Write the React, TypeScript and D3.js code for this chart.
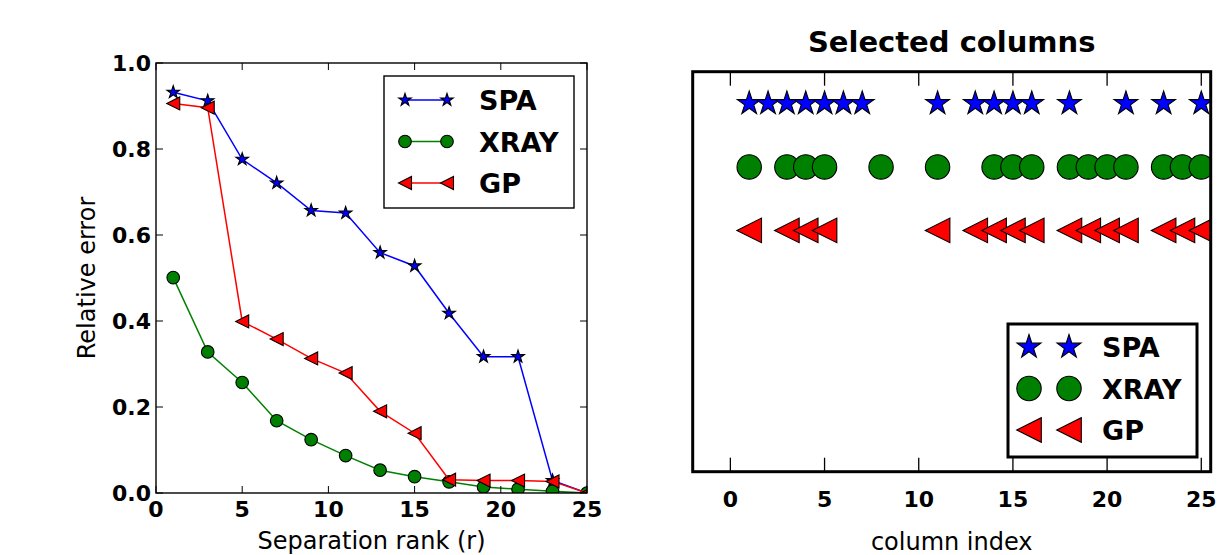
import React from "react";
import * as d3 from "d3";

// ---------- data ----------
const seriesNames = ["SPA", "XRAY", "GP"];
const seriesColors = ["#0000ff", "#008000", "#ff0000"];

const ranks = [1, 3, 5, 7, 9, 11, 13, 15, 17, 19, 21, 23, 25];
const spaError = [0.932, 0.912, 0.776, 0.721, 0.657, 0.651, 0.559, 0.528, 0.418, 0.317, 0.317, 0.029, 0.0];
const xrayError = [0.501, 0.328, 0.257, 0.168, 0.124, 0.087, 0.053, 0.038, 0.026, 0.014, 0.009, 0.004, 0.0];
const gpError = [0.906, 0.896, 0.399, 0.358, 0.313, 0.279, 0.19, 0.139, 0.031, 0.029, 0.029, 0.027, 0.0];

const spaCols = [1, 2, 3, 4, 5, 6, 7, 11, 13, 14, 15, 16, 18, 21, 23, 25];
const xrayCols = [1, 3, 4, 5, 8, 11, 14, 15, 16, 18, 19, 20, 21, 23, 24, 25];
const gpCols = [1, 3, 4, 5, 11, 13, 14, 15, 16, 18, 19, 20, 21, 23, 24, 25];
const rowLevels = [3, 2, 1];

const leftXTicks = [0, 5, 10, 15, 20, 25];
const leftYTicks = [0, 0.2, 0.4, 0.6, 0.8, 1.0];
const rightXTicks = [0, 5, 10, 15, 20, 25];

const FONT = "DejaVu Sans, sans-serif";

// ---------- marker helpers ----------
function starPath(R: number) {
  return d3.symbol().type(d3.symbolStar).size((R * R) / 0.8908130915292852)() as string;
}
function triPath(s: number) {
  return `M${-s},0L${s},${-s}L${s},${s}Z`;
}
function Marker({ kind, x, y, size, color }: { kind: number; x: number; y: number; size: number; color: string }) {
  const sw = 1.1;
  if (kind === 0)
    return <path d={starPath(size)} transform={`translate(${x},${y})`} fill={color} stroke="#000" strokeWidth={sw} strokeLinejoin="miter" />;
  if (kind === 1) return <circle cx={x} cy={y} r={size} fill={color} stroke="#000" strokeWidth={sw} />;
  return <path d={triPath(size)} transform={`translate(${x},${y})`} fill={color} stroke="#000" strokeWidth={sw} />;
}

export default function App() {
  // left panel
  const L = { x0: 156, x1: 587, y0: 63, y1: 493 };
  const lx = d3.scaleLinear().domain([0, 25]).range([L.x0, L.x1]);
  const ly = d3.scaleLinear().domain([0, 1]).range([L.y1, L.y0]);
  const errSeries = [spaError, xrayError, gpError];
  const lineGen = d3
    .line<number>()
    .x((_, i) => lx(ranks[i]))
    .y((d) => ly(d));
  const leftMarkerSize = [6.6, 6.3, 6.5];

  // right panel
  const R = { x0: 692.7, x1: 1210.7, y0: 71.7, y1: 471.7 };
  const rx = d3.scaleLinear().domain([-2, 25.5]).range([R.x0, R.x1]);
  const ry = d3.scaleLinear().domain([-2.8, 3.5]).range([R.y1, R.y0]);
  const colSeries = [spaCols, xrayCols, gpCols];
  const rightMarkerSize = [12.5, 12.2, 12.3];

  const tickLen = 7;
  const rTickLen = 14;

  return (
    <svg
      width={1228}
      height={555}
      style={{ position: "absolute", left: 0, top: 0, background: "#fff" }}
      fontFamily={FONT}
    >
      <defs>
        <clipPath id="clipL">
          <rect x={L.x0} y={L.y0} width={L.x1 - L.x0} height={L.y1 - L.y0} />
        </clipPath>
        <clipPath id="clipR">
          <rect x={R.x0} y={R.y0} width={R.x1 - R.x0} height={R.y1 - R.y0} />
        </clipPath>
      </defs>
      <rect x={0} y={0} width={1228} height={555} fill="#fff" />

      {/* ---------- LEFT PANEL ---------- */}
      <g clipPath="url(#clipL)">
        {errSeries.map((vals, si) => (
          <g key={si}>
            <path d={lineGen(vals) as string} fill="none" stroke={seriesColors[si]} strokeWidth={1.5} />
            {vals.map((v, i) => (
              <Marker key={i} kind={si} x={lx(ranks[i])} y={ly(v)} size={leftMarkerSize[si]} color={seriesColors[si]} />
            ))}
          </g>
        ))}
      </g>
      <rect x={L.x0} y={L.y0} width={L.x1 - L.x0} height={L.y1 - L.y0} fill="none" stroke="#000" strokeWidth={1.4} />
      {leftXTicks.map((t) => (
        <g key={"lx" + t}>
          <line x1={lx(t)} x2={lx(t)} y1={L.y1} y2={L.y1 - tickLen} stroke="#000" strokeWidth={1} />
          <line x1={lx(t)} x2={lx(t)} y1={L.y0} y2={L.y0 + tickLen} stroke="#000" strokeWidth={1} />
          <text x={lx(t)} y={L.y1 + 24} textAnchor="middle" fontWeight="bold" fontSize={22}>
            {t}
          </text>
        </g>
      ))}
      {leftYTicks.map((t) => (
        <g key={"ly" + t}>
          <line x1={L.x0} x2={L.x0 + tickLen} y1={ly(t)} y2={ly(t)} stroke="#000" strokeWidth={1} />
          <line x1={L.x1} x2={L.x1 - tickLen} y1={ly(t)} y2={ly(t)} stroke="#000" strokeWidth={1} />
          <text x={L.x0 - 5} y={ly(t) + 8} textAnchor="end" fontWeight="bold" fontSize={22}>
            {t.toFixed(1)}
          </text>
        </g>
      ))}
      <text x={(L.x0 + L.x1) / 2} y={549} textAnchor="middle" fontSize={24}>
        Separation rank (r)
      </text>
      <text transform={`translate(95,${(L.y0 + L.y1) / 2}) rotate(-90)`} textAnchor="middle" fontSize={24}>
        Relative error
      </text>

      {/* left legend */}
      <rect x={384} y={76} width={190} height={132} fill="#fff" stroke="#000" strokeWidth={1.4} />
      {seriesNames.map((name, si) => {
        const yy = 100 + si * 41.5;
        return (
          <g key={"ll" + name}>
            <line x1={405} x2={447} y1={yy} y2={yy} stroke={seriesColors[si]} strokeWidth={1.5} />
            <Marker kind={si} x={405} y={yy} size={leftMarkerSize[si]} color={seriesColors[si]} />
            <Marker kind={si} x={447} y={yy} size={leftMarkerSize[si]} color={seriesColors[si]} />
            <text x={479} y={yy + 10} fontWeight="bold" fontSize={27}>
              {name}
            </text>
          </g>
        );
      })}

      {/* ---------- RIGHT PANEL ---------- */}
      <text x={(R.x0 + R.x1) / 2} y={52} textAnchor="middle" fontWeight="bold" fontSize={29}>
        Selected columns
      </text>
      <g clipPath="url(#clipR)">
        {colSeries.map((cols, si) => (
          <g key={"rs" + si}>
            {cols.map((c, i) => (
              <Marker key={i} kind={si} x={rx(c)} y={ry(rowLevels[si])} size={rightMarkerSize[si]} color={seriesColors[si]} />
            ))}
          </g>
        ))}
      </g>
      {rightXTicks.map((t) => (
        <g key={"rx" + t}>
          <line x1={rx(t)} x2={rx(t)} y1={R.y1} y2={R.y1 - rTickLen} stroke="#000" strokeWidth={1.3} />
          <line x1={rx(t)} x2={rx(t)} y1={R.y0} y2={R.y0 + rTickLen} stroke="#000" strokeWidth={1.3} />
          <text x={rx(t)} y={R.y1 + 35} textAnchor="middle" fontWeight="bold" fontSize={22}>
            {t}
          </text>
        </g>
      ))}

      {/* right legend */}
      <rect x={1008} y={324} width={189} height={133} fill="#fff" stroke="#000" strokeWidth={3} />
      {seriesNames.map((name, si) => {
        const yy = 347 + si * 41.5;
        return (
          <g key={"rl" + name}>
            <Marker kind={si} x={1029} y={yy} size={rightMarkerSize[si]} color={seriesColors[si]} />
            <Marker kind={si} x={1069} y={yy} size={rightMarkerSize[si]} color={seriesColors[si]} />
            <text x={1102} y={yy + 10} fontWeight="bold" fontSize={27}>
              {name}
            </text>
          </g>
        );
      })}
      <rect x={R.x0} y={R.y0} width={R.x1 - R.x0} height={R.y1 - R.y0} fill="none" stroke="#000" strokeWidth={3} />
      <text x={(R.x0 + R.x1) / 2} y={550} textAnchor="middle" fontSize={24}>
        column index
      </text>
    </svg>
  );
}
